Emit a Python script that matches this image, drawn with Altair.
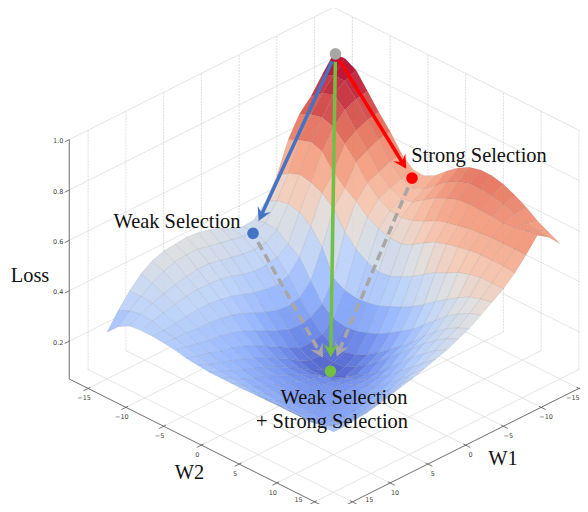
import math
import altair as alt
import pandas as pd

# ---- data --------------------------------------------------------------
W_STEP_VALUES = [-15, -13.5, -12, -10.5, -9, -7.5, -6, -4.5, -3, -1.5, 0, 1.5, 3, 4.5, 6, 7.5, 9, 10.5, 12, 13.5, 15]
# loss heights: rows are W1, columns are W2
LOSS = [
 [.89,.895,.87,.81,.75,.695,.63,.59,.587,.61,.65,.685,.71,.722,.722,.71,.69,.665,.633,.61,.587],
 [.83,.85,.85,.80,.74,.685,.62,.575,.56,.58,.615,.65,.675,.69,.69,.685,.675,.66,.645,.64,.635],
 [.766,.80,.82,.78,.72,.665,.60,.56,.54,.55,.58,.61,.63,.648,.652,.65,.648,.645,.65,.66,.665],
 [.72,.74,.75,.735,.69,.64,.58,.54,.515,.51,.52,.54,.565,.58,.59,.60,.605,.61,.61,.61,.61],
 [.64,.66,.675,.66,.60,.56,.53,.49,.465,.45,.45,.47,.50,.525,.54,.55,.56,.565,.565,.565,.56],
 [.52,.55,.57,.56,.54,.50,.43,.385,.355,.34,.345,.365,.39,.42,.45,.47,.495,.51,.52,.52,.52],
 [.44,.465,.475,.465,.43,.37,.27,.245,.235,.24,.25,.27,.29,.315,.345,.38,.41,.44,.465,.48,.49],
 [.39,.40,.395,.36,.33,.26,.19,.155,.145,.15,.165,.185,.21,.24,.27,.31,.35,.39,.42,.445,.46],
 [.385,.385,.365,.33,.28,.215,.16,.115,.09,.09,.10,.125,.155,.19,.225,.265,.31,.35,.385,.41,.43],
 [.40,.39,.36,.32,.265,.205,.15,.105,.08,.07,.075,.10,.13,.165,.205,.245,.285,.325,.36,.39,.41],
 [.425,.40,.365,.32,.27,.21,.155,.105,.08,.065,.058,.08,.11,.135,.17,.21,.25,.295,.33,.365,.39],
 [.44,.41,.375,.33,.28,.225,.175,.13,.10,.085,.085,.10,.12,.14,.16,.19,.225,.265,.30,.34,.375],
 [.45,.42,.385,.345,.295,.245,.195,.155,.13,.115,.115,.125,.13,.145,.16,.18,.205,.24,.275,.32,.36],
 [.455,.43,.395,.355,.31,.265,.22,.18,.155,.14,.135,.14,.145,.15,.16,.175,.195,.22,.255,.30,.345],
 [.45,.43,.395,.36,.32,.28,.24,.205,.18,.165,.155,.155,.155,.155,.16,.17,.185,.205,.24,.285,.335],
 [.445,.425,.39,.36,.325,.29,.255,.225,.20,.185,.175,.17,.165,.165,.165,.17,.18,.195,.225,.27,.32],
 [.43,.41,.38,.355,.325,.295,.265,.24,.22,.205,.195,.185,.18,.175,.175,.175,.18,.19,.215,.26,.31],
 [.40,.385,.365,.345,.32,.295,.27,.25,.235,.22,.21,.20,.195,.19,.185,.185,.185,.195,.215,.255,.30],
 [.355,.355,.35,.335,.315,.30,.28,.265,.25,.24,.23,.22,.215,.21,.205,.205,.205,.21,.225,.26,.295],
 [.30,.32,.33,.325,.31,.30,.29,.275,.265,.26,.255,.25,.245,.24,.24,.24,.24,.24,.25,.27,.29],
 [.236,.28,.305,.31,.31,.305,.30,.29,.285,.28,.28,.28,.28,.282,.283,.285,.285,.287,.288,.29,.29],
]
W_TICKS = [-15, -10, -5, 0, 5, 10, 15]
Z_TICKS = [0.2, 0.4, 0.6, 0.8, 1.0]
# selection points: (W1, W2, loss)
NODES = {
    "start": (-15.0, -14.74, 0.894),
    "weak": (-4.34, -15.0, 0.338),
    "strong": (-15.0, -4.6, 0.553),
    "end": (0.2, -0.2, 0.081),
}
NODE_COLORS = {"start": "#a9a6a6", "weak": "#4472c4", "strong": "#ff0000", "end": "#72bf44"}
ARROWS = [
    ("weak", "end", "#a9a6a6", 10, 15.5, True),
    ("strong", "end", "#a9a6a6", 10, 16, True),
    ("start", "weak", "#4472c4", 8, 13.5, False),
    ("start", "strong", "#ff0000", 8, 11, False),
    ("start", "end", "#72bf44", 8, 14, False),
]
COLOR_LOSS = [.05, .135, .23, .33, .45, .53, .62, .72, .86]
COOLWARM = ["#3b4cc0", "#6282ea", "#8db0fe", "#b8d0f9", "#dddddd", "#f5c4ac", "#f49a7b", "#e0654f", "#b40426"]

# ---- 3-D view (results are in chart pixels) ----------------------------
LIM = 17.5
Z0, Z1 = 0.05, 1.0
MARGIN = 8
W, H = 572, 496


def view(w1, w2, z):
    return (333.5 + 7.55 * (w2 - w1) - MARGIN,
            379 + 3.78 * (w1 + w2) - 252 * (z - Z0) - MARGIN)


PX = alt.X("x:Q", scale=alt.Scale(domain=[0, W], zero=False, nice=False), axis=None)
PY = alt.Y("y:Q", scale=alt.Scale(domain=[H, 0], zero=False, nice=False), axis=None)

# ---- surface -----------------------------------------------------------
features = []
n = len(W_STEP_VALUES)
for total in range(0, 2 * (n - 1) - 1):
    for i in range(n - 1):
        j = total - i
        if not 0 <= j < n - 1:
            continue
        idx = [(i, j), (i + 1, j), (i + 1, j + 1), (i, j + 1), (i, j)]
        ring = [list(view(W_STEP_VALUES[a], W_STEP_VALUES[b], LOSS[a][b])) for a, b in idx]
        mean = sum(LOSS[a][b] for a, b in idx[:4]) / 4
        features.append({"type": "Feature", "properties": {"z": mean},
                         "geometry": {"type": "Polygon", "coordinates": [ring]}})

surface = alt.Chart(alt.Data(values=features)).mark_geoshape(
    fillOpacity=0.9, stroke="#3a3a3a", strokeWidth=0.2, strokeOpacity=0.4
).encode(color=alt.Color(
    "properties.z:Q", legend=None,
    scale=alt.Scale(domain=COLOR_LOSS, range=COOLWARM, interpolate="rgb"),
)).project(type="identity", scale=1, translate=[0, 0])


# ---- walls, floor, axes ------------------------------------------------
def seg(a, b):
    ax, ay = view(*a)
    bx, by = view(*b)
    return {"x": ax, "y": ay, "x2": bx, "y2": by}


def rules(rows, **style):
    return alt.Chart(pd.DataFrame(rows)).mark_rule(**style).encode(x=PX, y=PY, x2="x2:Q", y2="y2:Q")


plain = []
dotted = []
for t in W_TICKS:
    plain.append(seg((t, -LIM, Z0), (t, LIM, Z0)))
    plain.append(seg((-LIM, t, Z0), (LIM, t, Z0)))
    dotted.append(seg((t, -LIM, Z0), (t, -LIM, Z1)))
    dotted.append(seg((-LIM, t, Z0), (-LIM, t, Z1)))
for z in Z_TICKS:
    plain.append(seg((LIM, -LIM, z), (-LIM, -LIM, z)))
    plain.append(seg((-LIM, -LIM, z), (-LIM, LIM, z)))

axes = [seg((LIM, -LIM, Z0), (LIM, -LIM, Z1)), seg((LIM, -LIM, Z0), (LIM, LIM, Z0)), seg((LIM, LIM, Z0), (-LIM, LIM, Z0))]
ticks = []
for t in W_TICKS:
    ticks.append(seg((LIM - 0.3, t, Z0), (LIM + 0.6, t, Z0)))
    ticks.append(seg((t, LIM - 0.3, Z0), (t, LIM + 0.6, Z0)))
for z in Z_TICKS:
    ticks.append(seg((LIM, -LIM, z), (LIM + 0.6, -LIM, z)))


def fmt(t):
    return str(t).replace("-", "\u2212")


def labels(rows, **style):
    return alt.Chart(pd.DataFrame(rows)).mark_text(
        font="DejaVu Sans", fontSize=6.5, color="#444444", **style
    ).encode(x=PX, y=PY, text="t:N")


W_TICKS_MID = W_TICKS[1:-1]
w2_rows = [dict(zip("xy", view(LIM, t, Z0)), t=fmt(t)) for t in W_TICKS[:-1]]
w1_rows = [dict(zip("xy", view(t, LIM, Z0)), t=fmt(t)) for t in W_TICKS_MID]
w2_last = [dict(zip("xy", view(LIM, W_TICKS[-1], Z0)), t=fmt(W_TICKS[-1]))]
w1_last = [dict(zip("xy", view(W_TICKS[-1], LIM, Z0)), t=fmt(W_TICKS[-1]))]
w1_first = [dict(zip("xy", view(W_TICKS[0], LIM, Z0)), t=fmt(W_TICKS[0]))]
z_rows = [dict(zip("xy", view(LIM, -LIM, z)), t=f"{z:.1f}") for z in Z_TICKS]

# ---- arrows and selection points ---------------------------------------
ARROW_PATH = "M0,-1L1.08,1L0,0.2L-1.08,1Z"
arrow_layers = []
head_layers = []
for a, b, colour, trim0, trim1, dashed in ARROWS:
    ax, ay = view(*NODES[a])
    bx, by = view(*NODES[b])
    d = math.hypot(bx - ax, by - ay)
    ux, uy = (bx - ax) / d, (by - ay) / d
    tipx, tipy = bx - ux * trim1, by - uy * trim1
    row = {"x": ax + ux * trim0, "y": ay + uy * trim0, "x2": tipx - ux * 8, "y2": tipy - uy * 8}
    style = {"strokeDash": [9, 5]} if dashed else {}
    arrow_layers.append(rules([row], color=colour, strokeWidth=3.5, **style))
    head = pd.DataFrame([{"x": tipx - ux * 6.7, "y": tipy - uy * 6.7}])
    head_layers.append(alt.Chart(head).mark_point(
        shape=ARROW_PATH, filled=True, opacity=1, size=180, strokeWidth=0, color=colour,
        angle=math.degrees(math.atan2(ux, -uy)) % 360,
    ).encode(x=PX, y=PY))

dot_layers = [
    alt.Chart(pd.DataFrame([dict(zip("xy", view(*NODES[k])))])).mark_circle(
        size=135, opacity=1, color=NODE_COLORS[k]
    ).encode(x=PX, y=PY)
    for k in NODES
]


# ---- text --------------------------------------------------------------
def caption(text, x, y):
    return alt.Chart(alt.Data(values=[{"t": text}])).mark_text(
        font="Liberation Serif", fontSize=20.4, color="#111111", align="center", baseline="alphabetic"
    ).encode(x=alt.value(x - MARGIN), y=alt.value(y - MARGIN), text="t:N")


chart = alt.layer(
    rules(plain, color="#dedede", strokeWidth=0.8),
    rules(dotted, color="#d6d6d6", strokeWidth=0.8, strokeDash=[2, 1]),
    rules(axes, color="#6e6e6e", strokeWidth=1),
    rules(ticks, color="#555555", strokeWidth=0.8),
    labels(w2_rows, dx=-4, dy=10),
    labels(w1_rows, dx=5, dy=10),
    labels(w1_first, dx=-6, dy=10),
    labels(w2_last, dx=-16, dy=-2),
    labels(w1_last, dx=17, dy=-2),
    labels(z_rows, dx=-11, dy=1.5),
    surface,
    *arrow_layers,
    *head_layers,
    *dot_layers,
    caption("Weak Selection", 177, 228),
    caption("Strong Selection", 479, 162),
    caption("Weak Selection", 344, 404),
    caption("+ Strong Selection", 332, 428),
    caption("Loss", 30, 282),
    caption("W2", 189.5, 479),
    caption("W1", 503, 465),
).properties(
    width=W, height=H, padding=0,
    autosize=alt.AutoSizeParams(type="none"),
).configure_view(stroke=None)

chart.save("out.html", embed_options={"renderer": "svg", "actions": False})
